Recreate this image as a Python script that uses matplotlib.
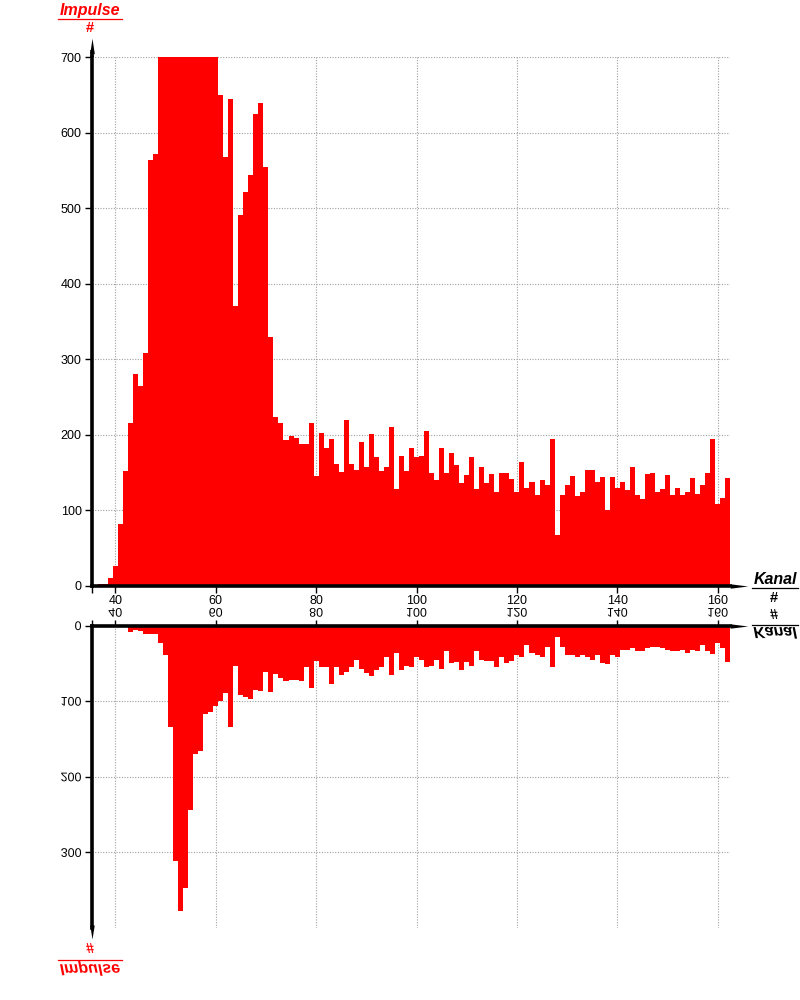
import matplotlib
matplotlib.use("Agg")
import matplotlib.pyplot as plt
from matplotlib import patheffects as pe
from matplotlib.transforms import Affine2D
from matplotlib.path import Path
from matplotlib.lines import Line2D

# ---------------- data ----------------
channels = list(range(37, 163))

impulse_top = [
    2, 2, 11, 26, 82, 152, 216, 280, 265, 308,          # 37-46
    564, 572, 760, 830, 880, 930, 960, 950, 920, 880,    # 47-56
    840, 800, 760, 725, 650, 568, 644, 370, 491, 521,    # 57-66
    544, 624, 639, 555, 329, 223, 216, 193, 199, 196,    # 67-76
    188, 188, 216, 146, 203, 182, 195, 162, 151, 219,    # 77-86
    162, 153, 191, 158, 201, 171, 152, 158, 211, 128,    # 87-96
    172, 152, 183, 171, 172, 205, 150, 140, 182, 150,    # 97-106
    176, 160, 136, 147, 171, 129, 158, 136, 148, 125,    # 107-116
    150, 150, 142, 125, 164, 130, 138, 121, 140, 133,    # 117-126
    195, 68, 121, 134, 146, 119, 125, 154, 154, 138,     # 127-136
    144, 101, 144, 130, 138, 127, 158, 121, 115, 148,    # 137-146
    150, 125, 129, 147, 121, 130, 121, 125, 143, 122,    # 147-156
    134, 150, 195, 109, 117, 143,                        # 157-162
]

impulse_bottom = [
    0, 0, 0, 0, 0, 0, 8, 5.5, 7, 11,                     # 37-46
    11, 11, 23, 39, 134, 312, 377, 347, 244, 170,        # 47-56
    166, 117, 115, 106, 100, 89, 134, 53, 92, 94,        # 57-66
    97, 85, 87, 62, 88, 64, 70, 74, 72, 72,              # 67-76
    73, 55, 83, 47, 55, 55, 78, 55, 65, 61,              # 77-86
    55, 45, 58, 63, 67, 59, 55, 42, 66, 37,              # 87-96
    59, 53, 55, 42, 45, 55, 53, 45, 57, 34,              # 97-106
    50, 48, 59, 48, 53, 34, 45, 47, 47, 55,              # 107-116
    42, 49, 47, 39, 42, 26, 36, 39, 42, 29,              # 117-126
    55, 15, 28, 39, 39, 42, 39, 42, 46, 39,              # 127-136
    50, 51, 39, 42, 32, 32, 30, 34, 34, 30,              # 137-146
    29, 28, 30, 33, 34, 34, 33, 37, 32, 34,              # 147-156
    26, 34, 38, 23, 30, 48,                              # 157-162
]

x_ticks = [40, 60, 80, 100, 120, 140, 160]
y_ticks_top = [0, 100, 200, 300, 400, 500, 600, 700]
y_ticks_bottom = [0, 100, 200, 300]

x_label_text = "Kanal"
y_label_text = "Impulse"
unit_text = "#"

# ---------------- style ----------------
RED = "#ff0000"
GRID = "#a0a0a0"
FONT = "Liberation Sans"
plt.rcParams["font.family"] = [FONT, "DejaVu Sans"]

W, H = 800, 1000


def fx(x):
    return x / W


def fy(y):
    return 1 - y / H


class VFlip(pe.AbstractPathEffect):
    """Draw the text mirrored top-to-bottom around its own centre."""

    def draw_path(self, renderer, gc, tpath, affine, rgbFace=None):
        ext = tpath.get_extents(affine)
        cy = 0.5 * (ext.y0 + ext.y1)
        flip = Affine2D().translate(0, -cy).scale(1, -1).translate(0, cy)
        renderer.draw_path(gc, tpath, affine + flip, rgbFace)


fig = plt.figure(figsize=(8, 10), dpi=100)

X_LEFT, X_RIGHT = 35.36, 162.5
AX_L, AX_R = 92, 730.3
TOP_Y0, TOP_YMAX = 586, 57
BOT_Y0, BOT_YMAX = 625.5, 928

ax1 = fig.add_axes([fx(AX_L), fy(TOP_Y0), (AX_R - AX_L) / W, (TOP_Y0 - TOP_YMAX) / H])
ax2 = fig.add_axes([fx(AX_L), fy(BOT_YMAX), (AX_R - AX_L) / W, (BOT_YMAX - BOT_Y0) / H])

for ax, vals in ((ax1, impulse_top), (ax2, impulse_bottom)):
    ax.bar(channels, vals, width=1.0, color=RED, linewidth=0, antialiased=False, zorder=2)
    ax.set_xlim(X_LEFT, X_RIGHT)
    ax.set_axisbelow(True)
    ax.grid(True, color=GRID, linestyle=(0, (1, 1.4)), linewidth=0.8)
    ax.set_facecolor("white")
    ax.set_xticks(x_ticks)
    ax.set_xticks([X_LEFT], minor=True)

ax1.set_ylim(0, 700)
ax1.set_yticks(y_ticks_top)
ax2.set_ylim(400, 0)
ax2.set_yticks(y_ticks_bottom)

SPW = 2.6
for s in ("top", "right"):
    ax1.spines[s].set_visible(False)
for s in ("bottom", "right"):
    ax2.spines[s].set_visible(False)
for s in ("left", "bottom"):
    ax1.spines[s].set_linewidth(SPW)
for s in ("left", "top"):
    ax2.spines[s].set_linewidth(SPW)

ax1.tick_params(axis="x", which="both", direction="out", length=5, width=1,
                pad=1.2, labelsize=9, colors="black")
ax1.tick_params(axis="y", direction="out", length=5, width=1, pad=2.5,
                labelsize=9, colors="black")
ax2.xaxis.tick_top()
ax2.tick_params(axis="x", which="both", direction="out", length=4, width=1,
                pad=0.2, labelsize=9, colors="black")
ax2.tick_params(axis="y", direction="out", length=5, width=1, pad=2.5,
                labelsize=9, colors="black")

for lbl in ax2.get_xticklabels() + ax2.get_yticklabels():
    lbl.set_path_effects([VFlip()])

# ---------------- axis arrows ----------------
up = Path([(-0.3, -1), (0.3, -1), (0, 1), (-0.3, -1)],
          [Path.MOVETO, Path.LINETO, Path.LINETO, Path.CLOSEPOLY])
down = Path([(-0.32, 1), (0.32, 1), (0, -1), (-0.32, 1)],
            [Path.MOVETO, Path.LINETO, Path.LINETO, Path.CLOSEPOLY])
right = Path([(-1, -0.25), (-1, 0.25), (1, 0), (-1, -0.25)],
             [Path.MOVETO, Path.LINETO, Path.LINETO, Path.CLOSEPOLY])


def arrow(x, y, marker, size_px):
    fig.add_artist(Line2D([fx(x)], [fy(y)], marker=marker, markersize=size_px * 0.72,
                          color="black", markeredgewidth=0, transform=fig.transFigure))


fig.add_artist(Line2D([fx(AX_L)] * 2, [fy(TOP_YMAX), fy(50)], color="black",
                      linewidth=SPW, solid_capstyle="butt", transform=fig.transFigure))
arrow(AX_L, 45.5, up, 15.5)
arrow(AX_L, 931.5, down, 14)
arrow(738.5, TOP_Y0, right, 17.5)
arrow(738.5, BOT_Y0, right, 17.5)

# ---------------- axis titles ----------------
title_kw = dict(fontsize=11.5, fontweight="bold", fontstyle="italic", ha="center",
                va="center", family=[FONT, "DejaVu Sans"])
hash_kw = dict(fontsize=10.5, fontweight="bold", ha="center", va="center",
               family=[FONT, "DejaVu Sans"])

# Impulse (top)
fig.text(fx(90), fy(10), y_label_text, color=RED, **title_kw)
fig.add_artist(Line2D([fx(58), fx(122)], [fy(18.5)] * 2, color=RED, linewidth=0.9,
                      transform=fig.transFigure))
fig.text(fx(90), fy(28), unit_text, color=RED, **hash_kw)

# Impulse (bottom, mirrored)
fig.text(fx(90), fy(949), unit_text, color=RED, path_effects=[VFlip()], **hash_kw)
fig.add_artist(Line2D([fx(58), fx(122)], [fy(959.5)] * 2, color=RED, linewidth=0.9,
                      transform=fig.transFigure))
fig.text(fx(90), fy(968), y_label_text, color=RED, path_effects=[VFlip()], **title_kw)

# Kanal (top)
fig.text(fx(775), fy(579), x_label_text, color="black", **title_kw)
fig.add_artist(Line2D([fx(752), fx(798)], [fy(587.5)] * 2, color="black", linewidth=0.9,
                      transform=fig.transFigure))
fig.text(fx(774), fy(598), unit_text, color="black", **hash_kw)

# Kanal (bottom, mirrored)
fig.text(fx(774), fy(615), unit_text, color="black", path_effects=[VFlip()], **hash_kw)
fig.add_artist(Line2D([fx(752), fx(798)], [fy(624.5)] * 2, color="black", linewidth=0.9,
                      transform=fig.transFigure))
fig.text(fx(775), fy(634), x_label_text, color="black", path_effects=[VFlip()], **title_kw)

fig.savefig("out.png", dpi=100, facecolor="white")
